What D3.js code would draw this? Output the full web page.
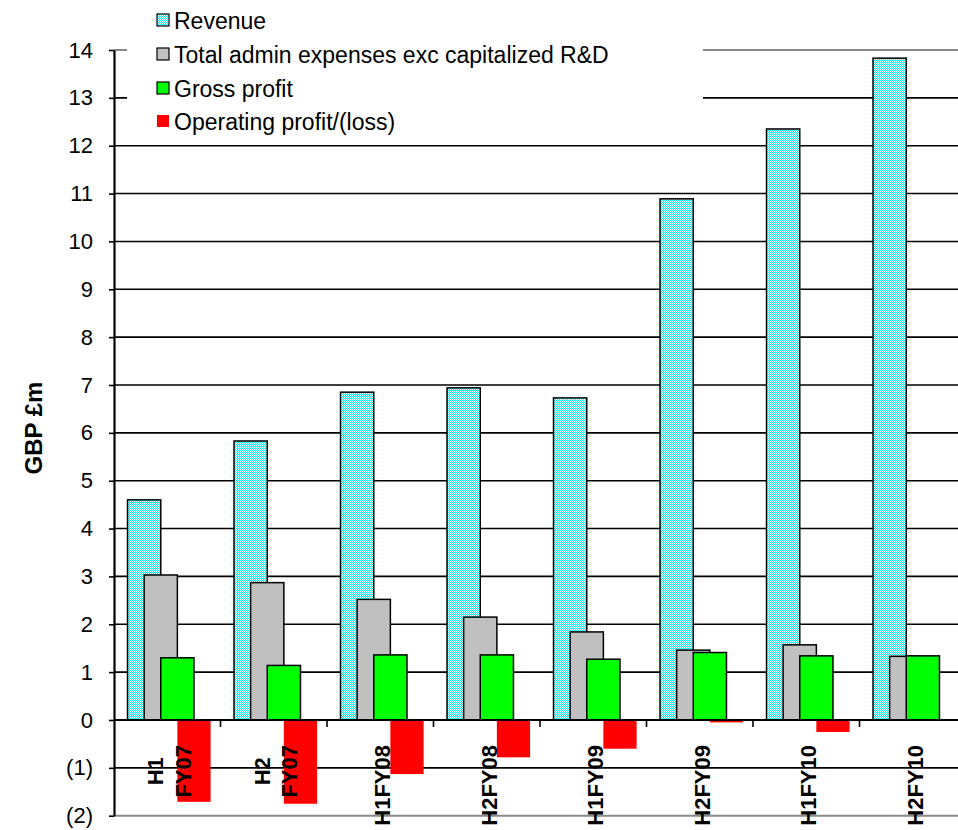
<!DOCTYPE html>
<html>
<head>
<meta charset="utf-8">
<script src="https://cdn.jsdelivr.net/npm/d3@7/dist/d3.min.js"></script>
<style>
  html, body { margin: 0; padding: 0; background: #fff; }
  svg { display: block; font-family: Arial, "Liberation Sans", sans-serif; }
</style>
</head>
<body>
<svg id="chart" width="958" height="830"></svg>
<script>
// Half-year periods
const categories = ["H1 FY07", "H2 FY07", "H1FY08", "H2FY08", "H1FY09", "H2FY09", "H1FY10", "H2FY10"];

// GBP £m per period
const revenue   = [4.60, 5.83, 6.85, 6.94, 6.73, 10.89, 12.35, 13.83];
const adminExp  = [3.03, 2.87, 2.52, 2.15, 1.84, 1.46, 1.57, 1.33];
const gross     = [1.30, 1.14, 1.36, 1.36, 1.27, 1.41, 1.34, 1.34];
const operating = [-1.71, -1.75, -1.13, -0.78, -0.60, -0.05, -0.25, -0.01];

const seriesNames = ["Revenue", "Total admin expenses exc capitalized R&D", "Gross profit", "Operating profit/(loss)"];
const yTicks = [-2, -1, 0, 1, 2, 3, 4, 5, 6, 7, 8, 9, 10, 11, 12, 13, 14];

const svg = d3.select("#chart");

// checkered fill for revenue bars
const defs = svg.append("defs");
const pat = defs.append("pattern")
  .attr("id", "checker").attr("patternUnits", "userSpaceOnUse")
  .attr("width", 2).attr("height", 2);
pat.append("rect").attr("width", 2).attr("height", 2).attr("fill", "#ffffff");
pat.append("rect").attr("x", 0).attr("y", 0).attr("width", 1).attr("height", 1).attr("fill", "#00ffff");
pat.append("rect").attr("x", 1).attr("y", 1).attr("width", 1).attr("height", 1).attr("fill", "#00ffff");

const series = [
  { name: seriesNames[0], values: revenue,   fill: "url(#checker)", stroke: "#000" },
  { name: seriesNames[1], values: adminExp,  fill: "#c0c0c0",       stroke: "#000" },
  { name: seriesNames[2], values: gross,     fill: "#00ff00",       stroke: "#000" },
  { name: seriesNames[3], values: operating, fill: "#ff0000",       stroke: "none" }
];

const plotLeft = 114, plotRight = 966, plotTop = 50, plotBottom = 815.7;

const y = d3.scaleLinear().domain([-2, 14]).range([plotBottom, plotTop]);
const x = d3.scaleBand().domain(categories).range([plotLeft, plotRight]).paddingInner(0).paddingOuter(0);

const bw = x.bandwidth();
const barW = bw * 0.312;
const groupOffset = bw * 0.127;
const barStep = barW / 2;   // bars overlap by half their width

// gridlines
const grid = svg.append("g");
grid.selectAll("line.g")
  .data(yTicks.filter(v => v > -2 && v < 14 && v !== 0))
  .join("line")
  .attr("x1", plotLeft).attr("x2", 958)
  .attr("y1", d => y(d)).attr("y2", d => y(d))
  .attr("stroke", "#000").attr("stroke-width", 1.6);
// plot area top and bottom border
grid.selectAll("line.b")
  .data([14, -2])
  .join("line")
  .attr("x1", plotLeft).attr("x2", 958)
  .attr("y1", d => y(d)).attr("y2", d => y(d))
  .attr("stroke", "#8a8a8a").attr("stroke-width", 2);

// bars
const barsG = svg.append("g");
series.forEach((s, si) => {
  barsG.append("g").selectAll("rect")
    .data(s.values.map((v, i) => ({ cat: categories[i], v })))
    .join("rect")
    .attr("x", d => x(d.cat) + groupOffset + si * barStep)
    .attr("width", barW)
    .attr("y", d => y(Math.max(0, d.v)))
    .attr("height", d => Math.abs(y(d.v) - y(0)))
    .attr("fill", s.fill)
    .attr("stroke", s.stroke)
    .attr("stroke-width", s.stroke === "none" ? 0 : 1.5);
});

// zero line with category ticks
svg.append("line")
  .attr("x1", plotLeft).attr("x2", 958)
  .attr("y1", y(0)).attr("y2", y(0))
  .attr("stroke", "#000").attr("stroke-width", 2);
svg.append("g").selectAll("line")
  .data(categories.slice(1))
  .join("line")
  .attr("x1", d => x(d)).attr("x2", d => x(d))
  .attr("y1", y(0)).attr("y2", y(0) + 7)
  .attr("stroke", "#000").attr("stroke-width", 1.6);

// category labels, rotated
const labelTop = 745;
const lblG = svg.append("g").attr("font-size", 22).attr("font-weight", "bold").attr("fill", "#000");
categories.forEach(c => {
  const lines = c.split(" ");
  const cx = x(c) + bw / 2 + 2;
  if (lines.length === 1) {
    lblG.append("text")
      .attr("transform", `translate(${cx},${labelTop}) rotate(-90)`)
      .attr("text-anchor", "end")
      .attr("dy", "0.36em")
      .text(c);
  } else {
    const lh = 27.5;
    const tmp = lblG.append("text").text(lines[lines.length - 1]);
    const longest = d3.max(lines, l => { tmp.text(l); return tmp.node().getComputedTextLength(); });
    tmp.remove();
    const midY = labelTop + longest / 2;
    lines.forEach((l, li) => {
      const lx = cx + (li - (lines.length - 1) / 2) * lh;
      lblG.append("text")
        .attr("transform", `translate(${lx},${midY}) rotate(-90)`)
        .attr("text-anchor", "middle")
        .attr("dy", "0.36em")
        .text(l);
    });
  }
});

// legend box
const lg = svg.append("g");
lg.append("rect").attr("x", 127).attr("y", 0).attr("width", 576).attr("height", 140).attr("fill", "#fff");
const legendBase = [29, 63, 97, 130];
series.forEach((s, i) => {
  const b = legendBase[i];
  lg.append("rect")
    .attr("x", 157).attr("y", b - 15).attr("width", 12).attr("height", 12)
    .attr("fill", s.fill)
    .attr("stroke", s.stroke === "none" ? "none" : "#000")
    .attr("stroke-width", 1.2);
  lg.append("text")
    .attr("x", 174).attr("y", b)
    .attr("font-size", 23).attr("fill", "#000")
    .text(s.name);
});

// y axis
const yAxis = d3.axisLeft(y)
  .tickValues(yTicks)
  .tickFormat(d => d < 0 ? `(${-d})` : `${d}`)
  .tickSize(5)
  .tickSizeOuter(0)
  .tickPadding(16);
const ya = svg.append("g").attr("transform", `translate(${plotLeft},0)`).call(yAxis);
ya.select(".domain").attr("stroke", "#000").attr("stroke-width", 2.2);
ya.selectAll(".tick line").attr("stroke", "#000").attr("stroke-width", 1.6);
ya.selectAll(".tick text").attr("font-size", 22).attr("fill", "#000")
  .attr("font-family", "Arial, 'Liberation Sans', sans-serif");

// y axis title
svg.append("text")
  .attr("transform", `translate(33,428) rotate(-90)`)
  .attr("text-anchor", "middle")
  .attr("dy", "0.36em")
  .attr("font-size", 24).attr("font-weight", "bold").attr("fill", "#000")
  .text("GBP £m");
</script>
</body>
</html>
